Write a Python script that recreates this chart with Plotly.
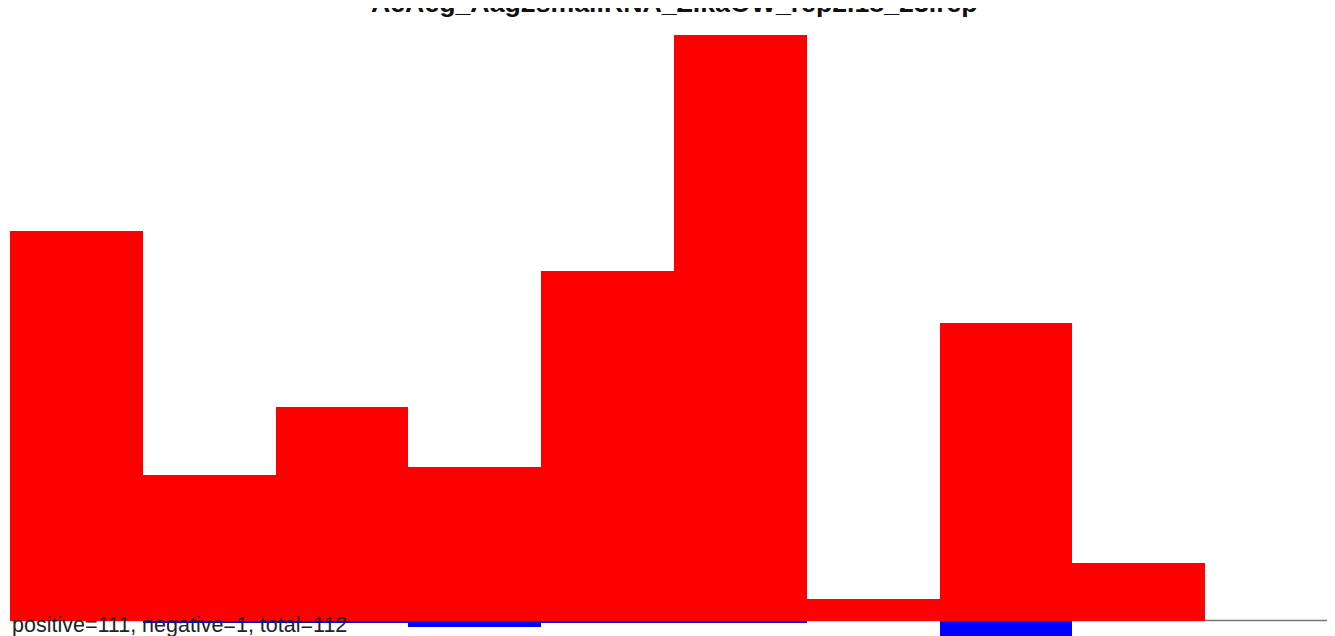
import plotly.graph_objects as go

# Data (units ~ read counts)
bins = [1, 2, 3, 4, 5, 6, 7, 8, 9, 10]
positive = [19.5, 7.3, 10.7, 7.7, 17.5, 29.3, 1.08, 14.9, 2.9, 0]
negative = [0, -0.13, -0.13, -0.32, -0.13, -0.13, 0, -1.0, 0, 0]
title_text = "AeAeg_Aag2smallRNA_ZikaOW_rep2.18_23.rep"
summary_text = "positive=111, negative=1, total=112"

# page body has an 8px margin; figure starts at page (8, 8)
W, H = 1327, 628
fig = go.Figure()
fig.add_trace(go.Bar(x=bins, y=positive, marker=dict(color="#FF0000", line=dict(width=0)),
                     showlegend=False))
fig.add_trace(go.Bar(x=bins, y=negative, marker=dict(color="#0000FF", line=dict(width=0)),
                     showlegend=False))

L = 2
plot_w = W - L
bin_px = 132.8
x_lo = 0.5
x_hi = x_lo + plot_w / bin_px
px_per_unit = 20.0
zero_y = 612.5  # in figure pixels
y_hi = zero_y / px_per_unit
y_lo = -(H - zero_y) / px_per_unit

fig.update_layout(
    width=W, height=H,
    barmode="overlay", bargap=0,
    margin=dict(l=L, r=0, t=0, b=0, pad=0),
    paper_bgcolor="white", plot_bgcolor="white",
    font=dict(family="Liberation Sans, Arial, sans-serif", color="#222"),
    xaxis=dict(range=[x_lo, x_hi], showgrid=False, zeroline=False, showticklabels=False,
               ticks="", showline=False),
    yaxis=dict(range=[y_lo, y_hi], showgrid=False, zeroline=False,
               showticklabels=False, ticks="", showline=False),
    shapes=[dict(type="line", xref="paper", yref="y", x0=0, x1=1.02, y0=0, y1=0,
                 layer="below", line=dict(color="#777", width=1.3))],
    annotations=[
        dict(text="<b>" + title_text + "</b>", xref="paper", yref="paper",
             x=(666 - L) / plot_w, xanchor="center", y=1 + 5.5 / H, yanchor="middle",
             showarrow=False, font=dict(size=26.7, color="#111")),
        dict(text=summary_text, xref="paper", yref="paper", x=0, xanchor="left",
             y=(H - 617) / H, yanchor="middle", showarrow=False,
             font=dict(size=21.5, color="#222")),
    ],
)

fig.write_html("out.html", post_script="document.body.style.overflow='hidden';")
